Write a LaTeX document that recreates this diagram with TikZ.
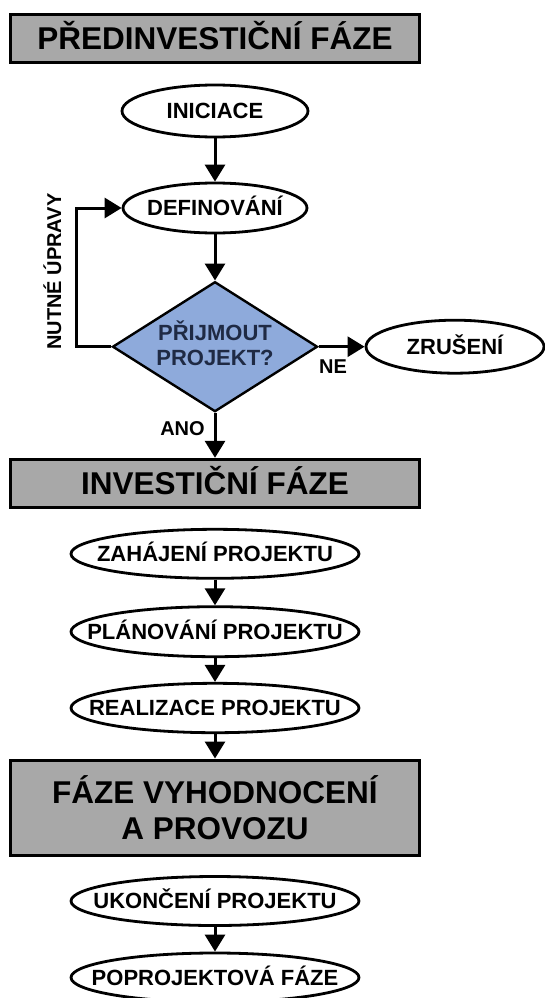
\documentclass[tikz,border=0pt]{standalone}
\usepackage{fontspec}
\setmainfont{Liberation Sans}
\usetikzlibrary{shapes.geometric,arrows.meta}
\definecolor{boxgray}{HTML}{A8A8A8}
\definecolor{diablue}{HTML}{8EAADB}
\definecolor{diatext}{HTML}{1F2A44}
\newcommand{\zb}[1]{\makebox[0pt]{#1}}
\begin{document}
\begin{tikzpicture}[x=1pt,y=-1pt,
  phase/.style={draw, line width=3pt, fill=boxgray, minimum width=409pt, inner sep=0pt,
    font=\fontsize{31.5}{35.5}\selectfont\bfseries, align=center},
  phaseone/.style={phase, minimum height=48pt, text height=22.5pt, text depth=0pt},
  oval/.style={draw, ellipse, line width=2.8pt, fill=white, inner sep=0pt,
    text height=15.75pt, text depth=0pt, font=\fontsize{22}{26}\selectfont\bfseries},
  lbl/.style={font=\fontsize{20}{23}\selectfont\bfseries, inner sep=0pt,
    text height=14.3pt, text depth=0pt},
  arr/.style={line width=3pt, -{Triangle[length=17pt,width=20pt]}},
]
\useasboundingbox (0,0) rectangle (544,998);

\node[phaseone] (pre) at (215,38.4) {PŘEDINVESTIČNÍ FÁZE};
\node[oval, minimum width=186pt, minimum height=52pt] (ini) at (215,111) {\zb{INICIACE}};
\node[oval, minimum width=184pt, minimum height=50pt] (def) at (215,208) {\zb{DEFINOVÁNÍ}};
\node[diamond, draw, line width=2.4pt, fill=diablue, aspect=1.577, inner sep=0pt,
  minimum width=205pt, minimum height=130pt, align=center, text=diatext,
  text height=40.75pt, text depth=4pt,
  font=\fontsize{22}{25}\selectfont\bfseries] (dia) at (215,346.7) {PŘIJMOUT\\PROJEKT?};
\node[oval, minimum width=178pt, minimum height=53pt] (zru) at (455,346.7) {\zb{ZRUŠENÍ}};
\node[lbl] (ne) at (333,366.5) {NE};
\node[lbl] (ano) at (182.5,428.3) {ANO};
\node[lbl, rotate=90] (nut) at (54,271.5) {NUTNÉ ÚPRAVY};

\node[phaseone] (inv) at (215,483.3) {INVESTIČNÍ FÁZE};
\node[oval, minimum width=288pt, minimum height=49pt] (zah) at (215,553.8) {\zb{ZAHÁJENÍ PROJEKTU}};
\node[oval, minimum width=288pt, minimum height=50pt] (pla) at (215,631.7) {\zb{PLÁNOVÁNÍ PROJEKTU}};
\node[oval, minimum width=288pt, minimum height=49.4pt] (rea) at (215,708) {\zb{REALIZACE PROJEKTU}};
\node[phase, minimum height=95pt] (vyh) at (215,807.5) {FÁZE VYHODNOCENÍ\\A PROVOZU};
\node[oval, minimum width=288pt, minimum height=49pt] (uko) at (215,901) {\zb{UKONČENÍ PROJEKTU}};
\node[oval, minimum width=288pt, minimum height=49pt] (pop) at (215,977.5) {\zb{POPROJEKTOVÁ FÁZE}};

\coordinate (loopx) at (76.5,0);
\draw[arr] (ini.south) -- (def.north);
\draw[arr] (def.south) -- (dia.north);
\draw[arr] (dia.west) -- (dia.west -| loopx) |- (def.west);
\draw[arr] (dia.east) -- (zru.west);
\draw[arr] (dia.south) -- (inv.north);
\draw[arr] (zah.south) -- (pla.north);
\draw[arr] (pla.south) -- (rea.north);
\draw[arr] (rea.south) -- (vyh.north);
\draw[arr] (uko.south) -- (pop.north);
\end{tikzpicture}
\end{document}
